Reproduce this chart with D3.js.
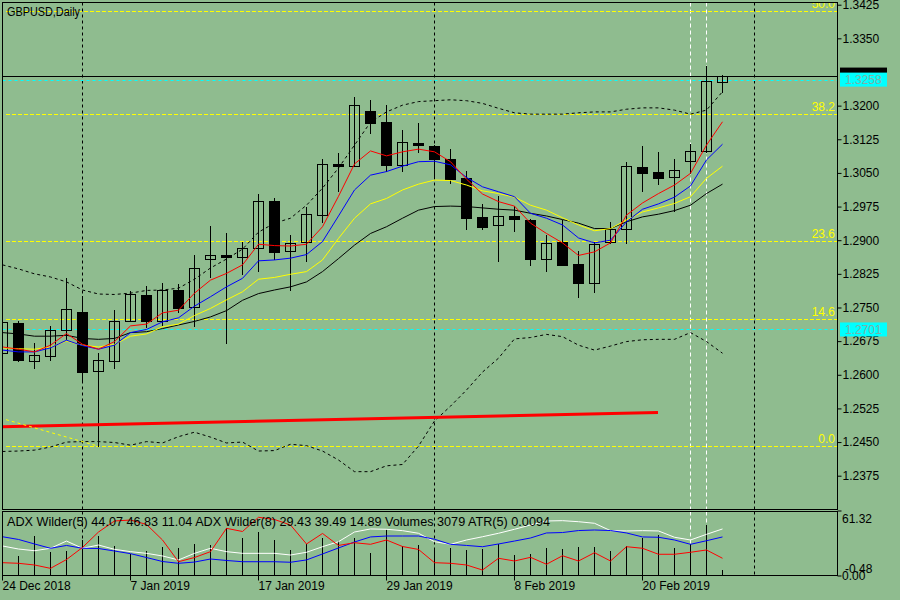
<!DOCTYPE html>
<html>
<head>
<meta charset="utf-8">
<script src="https://cdnjs.cloudflare.com/ajax/libs/d3/7.8.5/d3.min.js"></script>
<style>
  body { margin: 0; background: #8fbc8f; }
  text { font-family: "Liberation Sans", Arial, sans-serif; }
</style>
</head>
<body>
<script>
// bar dates (daily)
var dates = ["24 Dec 2018","26 Dec 2018","27 Dec 2018","28 Dec 2018","31 Dec 2018","2 Jan 2019","3 Jan 2019","4 Jan 2019",
  "7 Jan 2019","8 Jan 2019","9 Jan 2019","10 Jan 2019","11 Jan 2019","14 Jan 2019","15 Jan 2019","16 Jan 2019",
  "17 Jan 2019","18 Jan 2019","21 Jan 2019","22 Jan 2019","23 Jan 2019","24 Jan 2019","25 Jan 2019","28 Jan 2019",
  "29 Jan 2019","30 Jan 2019","31 Jan 2019","1 Feb 2019","4 Feb 2019","5 Feb 2019","6 Feb 2019","7 Feb 2019",
  "8 Feb 2019","11 Feb 2019","12 Feb 2019","13 Feb 2019","14 Feb 2019","15 Feb 2019","18 Feb 2019","19 Feb 2019",
  "20 Feb 2019","21 Feb 2019","22 Feb 2019","25 Feb 2019","26 Feb 2019","27 Feb 2019"];

// OHLC
var open  = [1.2648,1.2716,1.2632,1.2642,1.2699,1.2740,1.2608,1.2630,1.2720,1.2777,1.2720,1.2790,1.2753,1.2857,1.2867,1.2862,
  1.2882,1.2987,1.2876,1.2895,1.2955,1.3070,1.3066,1.3188,1.3163,1.3067,1.3117,1.3110,1.3081,1.3039,1.2952,1.2933,
  1.2954,1.2945,1.2857,1.2896,1.2847,1.2804,1.2895,1.2924,1.3063,1.3052,1.3040,1.3076,1.3098,1.3254];
var high  = [1.2731,1.2720,1.2671,1.2709,1.2815,1.2775,1.2649,1.2744,1.2787,1.2798,1.2804,1.2802,1.2867,1.2932,1.2915,1.2896,
  1.3003,1.2994,1.2911,1.2975,1.3081,1.3095,1.3219,1.3213,1.3201,1.3146,1.3162,1.3112,1.3103,1.3054,1.2980,1.2998,
  1.2976,1.2947,1.2911,1.2945,1.2876,1.2896,1.2940,1.3074,1.3110,1.3097,1.3081,1.3114,1.3288,1.3269];
var low   = [1.2637,1.2630,1.2616,1.2633,1.2680,1.2588,1.2441,1.2616,1.2719,1.2707,1.2711,1.2740,1.2709,1.2818,1.2670,1.2825,
  1.2832,1.2859,1.2789,1.2854,1.2941,1.3010,1.3065,1.3138,1.3055,1.3055,1.3097,1.3043,1.3028,1.2924,1.2924,1.2854,
  1.2921,1.2845,1.2832,1.2844,1.2773,1.2785,1.2894,1.2894,1.3010,1.3025,1.2966,1.3049,1.3097,1.3231];
var close = [1.2718,1.2633,1.2645,1.2700,1.2746,1.2607,1.2632,1.2720,1.2780,1.2718,1.2790,1.2749,1.2839,1.2866,1.2862,1.2882,
  1.2987,1.2874,1.2893,1.2958,1.3069,1.3065,1.3201,1.3161,1.3068,1.3118,1.3112,1.3082,1.3037,1.2950,1.2930,1.2954,
  1.2948,1.2859,1.2893,1.2845,1.2804,1.2891,1.2924,1.3065,1.3050,1.3039,1.3056,1.3099,1.3254,1.3267];

// moving averages
var maRed    = [1.2662,1.2657,1.2651,1.2666,1.2692,1.2668,1.2657,1.2674,1.2709,1.2713,1.2738,1.2744,1.2782,1.2811,1.2826,1.2845,
  1.2891,1.2888,1.2887,1.2891,1.2930,1.2998,1.3070,1.3099,1.3088,1.3097,1.3103,1.3097,1.3075,1.3036,1.3003,1.2986,
  1.2976,1.2938,1.2915,1.2894,1.2866,1.2874,1.2894,1.2956,1.2983,1.3004,1.3023,1.3049,1.3112,1.3164];
var maBlue   = [1.2655,1.2651,1.2651,1.2660,1.2677,1.2665,1.2657,1.2666,1.2694,1.2701,1.2718,1.2727,1.2753,1.2774,1.2796,1.2815,
  1.2854,1.2856,1.2860,1.2868,1.2897,1.2954,1.3012,1.3045,1.3053,1.3065,1.3075,1.3076,1.3068,1.3040,1.3019,1.3008,
  1.2997,1.2960,1.2949,1.2934,1.2905,1.2894,1.2900,1.2941,1.2969,1.2981,1.2996,1.3021,1.3079,1.3114];
var maYellow = [1.2660,1.2658,1.2657,1.2662,1.2675,1.2666,1.2662,1.2668,1.2686,1.2691,1.2707,1.2713,1.2732,1.2748,1.2767,1.2785,
  1.2813,1.2817,1.2824,1.2830,1.2856,1.2904,1.2949,1.2981,1.2993,1.3012,1.3025,1.3034,1.3033,1.3023,1.3010,1.3004,
  1.2996,1.2978,1.2967,1.2950,1.2934,1.2921,1.2926,1.2945,1.2963,1.2972,1.2982,1.2997,1.3038,1.3065];
var maBlack  = [1.2694,1.2691,1.2686,1.2686,1.2688,1.2681,1.2679,1.2681,1.2694,1.2696,1.2703,1.2711,1.2719,1.2729,1.2743,1.2766,
  1.2781,1.2789,1.2796,1.2807,1.2830,1.2859,1.2889,1.2915,1.2930,1.2949,1.2967,1.2975,1.2976,1.2975,1.2972,1.2969,
  1.2967,1.2960,1.2954,1.2946,1.2938,1.2926,1.2926,1.2941,1.2952,1.2958,1.2966,1.2978,1.3004,1.3025];

// bollinger bands
var bbUpper = [1.2845,1.2836,1.2825,1.2818,1.2807,1.2789,1.2780,1.2779,1.2782,1.2788,1.2789,1.2793,1.2813,1.2838,1.2858,1.2880,
  1.2918,1.2938,1.2949,1.2978,1.3016,1.3061,1.3112,1.3163,1.3186,1.3201,1.3209,1.3211,1.3213,1.3211,1.3205,1.3194,
  1.3184,1.3181,1.3181,1.3181,1.3184,1.3186,1.3186,1.3192,1.3195,1.3195,1.3190,1.3181,1.3190,1.3231];
var bbLower = [1.2429,1.2430,1.2432,1.2439,1.2450,1.2451,1.2451,1.2449,1.2443,1.2451,1.2448,1.2462,1.2472,1.2461,1.2448,1.2450,
  1.2430,1.2431,1.2445,1.2442,1.2430,1.2410,1.2384,1.2384,1.2397,1.2400,1.2441,1.2497,1.2530,1.2566,1.2606,1.2637,
  1.2680,1.2683,1.2690,1.2685,1.2666,1.2655,1.2664,1.2674,1.2678,1.2679,1.2679,1.2694,1.2674,1.2648];

// lower window
var volumes = [12000,10260,20520,12470,12830,18470,20670,15390,11130,12830,15030,14520,16260,15900,24780,19340,
  22730,18620,13490,16260,19340,17960,19650,11950,23600,15540,15900,14520,14520,13340,13700,16260,
  10770,11130,14520,13700,14880,15030,12830,15390,19340,21030,14210,16420,26160,3079];
var adxWhite = [28.3,25.4,23.8,26.1,33.0,26.1,29.2,25.1,22.9,21.3,18.8,15.0,21.3,26.1,22.9,21.3,
  21.3,21.3,19.7,22.3,27.6,32.4,41.6,44.5,44.2,42.9,40.4,32.4,29.9,34.0,37.1,40.4,
  44.2,48.3,52.1,52.4,51.4,49.9,42.9,42.6,42.9,42.6,36.6,34.0,39.4,44.5];
var adxBlue  = [37.1,34.5,30.2,26.1,28.8,26.1,25.9,23.5,21.0,17.3,13.5,11.8,13.0,15.9,14.5,13.3,
  13.3,13.3,12.8,15.0,20.7,26.4,32.1,36.9,37.8,37.8,37.8,34.7,29.9,28.8,27.6,30.2,
  33.0,35.9,40.7,41.1,43.0,43.5,43.0,40.7,36.9,36.6,34.0,29.9,33.3,36.9];
var adxRed   = [12.4,11.8,10.2,7.0,15.4,26.9,41.6,52.1,53.0,48.8,34.0,13.3,17.3,22.9,45.1,42.1,
  55.6,53.5,48.3,30.2,40.2,28.8,31.4,29.9,34.0,27.8,25.0,12.4,11.8,10.2,5.4,16.6,
  14.0,17.5,10.9,19.0,14.0,21.9,14.0,27.6,26.1,20.4,20.4,22.3,24.5,16.6];

// objects
var fibLevels = [0.0, 14.6, 23.6, 38.2, 50.0];
var fibLow = 1.2441, fibHigh = 1.4381, fibStartBar = 0.25;
var fibTrend = [[0.25, 1.2500], [6, 1.2441]];
var redTrend = [[0, 1.2484], [41, 1.2516]];
var hLines = [1.3258, 1.2701];
var monthStarts = [5, 27, 47];
var markedBars = [43, 44];
// 1.3275 sits under the price labels and is not shown
var priceTicks = [1.3425,1.3350,1.3200,1.3125,1.3050,1.2975,1.2900,1.2825,1.2750,1.2675,1.2600,1.2525,1.2450,1.2375];
var timeTicks = [0, 8, 16, 24, 32, 40];
var indTicks = [61.32, 0.00];

var bg = "#8fbc8f";
var n = close.length;
var left = 2.5, right = 837.5, mainTop = 2.5, mainBottom = 509.5, indTop = 511.5, indBottom = 575.5;

var svg = d3.select("body").append("svg")
    .attr("width", 900)
    .attr("height", 600)
    .style("background", bg);

var x = d3.scaleLinear().domain([0, 52.1875]).range([2, 837]);
var y = d3.scaleLinear().domain([1.2375, 1.3425]).range([475.7, 4.7]);
var yInd = d3.scaleLinear().domain([0, 61.32]).range([575.7, 511.3]);
var yVol = d3.scaleLinear().domain([0, 33300]).range([576, 511.3]);

function px(v) { return Math.round(v) + 0.5; }

var defs = svg.append("defs");
defs.append("clipPath").attr("id", "clipMain").append("rect")
    .attr("x", left).attr("y", mainTop).attr("width", right - left).attr("height", mainBottom - mainTop);
defs.append("clipPath").attr("id", "clipInd").append("rect")
    .attr("x", left).attr("y", indTop).attr("width", right - left).attr("height", indBottom - indTop);

var gMain = svg.append("g").attr("clip-path", "url(#clipMain)");
var gInd = svg.append("g").attr("clip-path", "url(#clipInd)");

//vertical lines in both windows
[[gMain, mainTop, mainBottom], [gInd, indTop, indBottom]].forEach(function(p) {
    p[0].selectAll(null).data(monthStarts).enter().append("line")
        .attr("x1", function(d) { return px(x(d)); })
        .attr("x2", function(d) { return px(x(d)); })
        .attr("y1", p[1]).attr("y2", p[2])
        .attr("stroke", "#000").attr("stroke-dasharray", "3,3");
    p[0].selectAll(null).data(markedBars).enter().append("line")
        .attr("x1", function(d) { return px(x(d)); })
        .attr("x2", function(d) { return px(x(d)); })
        .attr("y1", p[1]).attr("y2", p[2])
        .attr("stroke", "#fff").attr("stroke-dasharray", "4,3");
});

//fibonacci levels
var fibPrice = function(l) { return fibLow + l / 100 * (fibHigh - fibLow); };
gMain.selectAll(".fib").data(fibLevels).enter().append("line")
    .attr("x1", x(fibStartBar)).attr("x2", right)
    .attr("y1", function(d) { return px(y(fibPrice(d))); })
    .attr("y2", function(d) { return px(y(fibPrice(d))); })
    .attr("stroke", "#ffff00").attr("stroke-dasharray", "4,2");

//horizontal lines
gMain.selectAll(".hl").data(hLines).enter().append("line")
    .attr("x1", left).attr("x2", right)
    .attr("y1", function(d) { return px(y(d)); })
    .attr("y2", function(d) { return px(y(d)); })
    .attr("stroke", "#00ffff").attr("stroke-dasharray", "3,3");

//bid line
gMain.append("line")
    .attr("x1", left).attr("x2", right)
    .attr("y1", px(y(close[n - 1]))).attr("y2", px(y(close[n - 1])))
    .attr("stroke", "#000");

//candles
var bars = gMain.selectAll(".bar").data(d3.range(n)).enter().append("g");
bars.append("line")
    .attr("x1", function(i) { return px(x(i)); })
    .attr("x2", function(i) { return px(x(i)); })
    .attr("y1", function(i) { return Math.round(y(high[i])); })
    .attr("y2", function(i) { return Math.round(y(low[i])) + 1; })
    .attr("stroke", "#000");
bars.append("rect")
    .attr("x", function(i) { return px(x(i)) - 5; })
    .attr("width", 10)
    .attr("y", function(i) { return px(y(Math.max(open[i], close[i]))); })
    .attr("height", function(i) { return Math.max(1, Math.round(Math.abs(y(open[i]) - y(close[i])))); })
    .attr("fill", function(i) { return close[i] >= open[i] ? "none" : "#000"; })
    .attr("stroke", "#000");

//indicator lines
var line = d3.line()
    .x(function(d, i) { return px(x(i)); })
    .y(function(d) { return y(d); });

[[bbUpper, "#000", "3,3"], [bbLower, "#000", "3,3"], [maBlack, "#000", null],
 [maYellow, "#ffff00", null], [maBlue, "#0000ff", null], [maRed, "#ff0000", null]].forEach(function(s) {
    gMain.append("path")
        .attr("d", line(s[0]))
        .attr("fill", "none")
        .attr("stroke", s[1])
        .attr("stroke-dasharray", s[2]);
});

//trend lines
var tline = d3.line().x(function(d) { return x(d[0]); }).y(function(d) { return y(d[1]); });
gMain.append("path").attr("d", tline(redTrend))
    .attr("stroke", "#ff0000").attr("stroke-width", 3).attr("fill", "none");
gMain.append("path").attr("d", tline(fibTrend))
    .attr("stroke", "#ffff00").attr("stroke-dasharray", "3,3").attr("fill", "none");

//fib labels
gMain.selectAll(".fibt").data(fibLevels).enter().append("text")
    .attr("x", 835)
    .attr("y", function(d) { return y(fibPrice(d)) - 3; })
    .attr("text-anchor", "end")
    .attr("font-size", 12)
    .attr("fill", "#ffff00")
    .text(function(d) { return d.toFixed(1); });

gMain.append("text")
    .attr("x", 7).attr("y", 15.5)
    .attr("font-size", 12)
    .attr("textLength", 73).attr("lengthAdjust", "spacingAndGlyphs")
    .text("GBPUSD,Daily");

//lower window
gInd.selectAll(".vol").data(volumes).enter().append("line")
    .attr("x1", function(d, i) { return px(x(i)); })
    .attr("x2", function(d, i) { return px(x(i)); })
    .attr("y1", yVol(0))
    .attr("y2", function(d) { return Math.round(yVol(d)); })
    .attr("stroke", "#000");

var indLine = d3.line()
    .x(function(d, i) { return px(x(i)); })
    .y(function(d) { return yInd(d); });
[[adxWhite, "#fff"], [adxBlue, "#0000ff"], [adxRed, "#ff0000"]].forEach(function(s) {
    gInd.append("path").attr("d", indLine(s[0]))
        .attr("fill", "none").attr("stroke", s[1]);
});

gInd.append("text")
    .attr("x", 7).attr("y", 525.5)
    .attr("font-size", 12)
    .attr("textLength", 543).attr("lengthAdjust", "spacingAndGlyphs")
    .text("ADX Wilder(5) 44.07 46.83 11.04 ADX Wilder(8) 29.43 39.49 14.89 Volumes 3079 ATR(5) 0.0094");

//frames
svg.append("rect").attr("x", left).attr("y", mainTop)
    .attr("width", right - left).attr("height", mainBottom - mainTop)
    .attr("fill", "none").attr("stroke", "#000");
svg.append("rect").attr("x", left).attr("y", indTop)
    .attr("width", right - left).attr("height", indBottom - indTop)
    .attr("fill", "none").attr("stroke", "#000");

//price axis
var yAxis = svg.append("g")
    .attr("transform", "translate(" + right + ",0)")
    .call(d3.axisRight(y).tickValues(priceTicks).tickSize(4).tickPadding(1)
        .tickFormat(d3.format(".4f")));
yAxis.select(".domain").remove();
yAxis.selectAll("line").attr("stroke", "#000");
yAxis.selectAll("text").attr("font-size", 12).attr("font-family", "Liberation Sans, Arial, sans-serif").attr("fill", "#000");

//price labels: black bid box mostly hidden under the cyan one
var bidY = y(close[n - 1]);
svg.append("rect").attr("x", 840).attr("y", bidY - 8).attr("width", 47).attr("height", 14).attr("fill", "#000");
svg.selectAll(".hlbox").data(hLines).enter().append("rect")
    .attr("x", 840).attr("y", function(d) { return y(d) - 7; })
    .attr("width", 47).attr("height", 14)
    .attr("fill", "#00ffff");
svg.selectAll(".hltxt").data(hLines).enter().append("text")
    .attr("x", 845).attr("y", function(d) { return y(d) + 4.5; })
    .attr("font-size", 12).attr("fill", "#7fb0a8")
    .text(function(d) { return d.toFixed(4); });

//indicator scale
svg.selectAll(".itk").data(indTicks).enter().append("line")
    .attr("x1", right).attr("x2", right + 4)
    .attr("y1", function(d) { return px(yInd(d)) - 0.5; })
    .attr("y2", function(d) { return px(yInd(d)) - 0.5; })
    .attr("stroke", "#000");
svg.append("text").attr("x", 842).attr("y", 523).attr("font-size", 12).text(indTicks[0].toFixed(2));
svg.append("text").attr("x", 845).attr("y", 573).attr("font-size", 12).text("-0.48");
svg.append("text").attr("x", 842).attr("y", 580).attr("font-size", 12).text(indTicks[1].toFixed(2));

//time axis
var xAxis = svg.append("g")
    .attr("transform", "translate(0," + indBottom + ")")
    .call(d3.axisBottom(x).tickValues(timeTicks).tickSize(5).tickPadding(1)
        .tickFormat(function(i) { return dates[i]; }));
xAxis.select(".domain").remove();
xAxis.selectAll(".tick").attr("transform", function(i) { return "translate(" + px(x(i)) + ",0)"; });
xAxis.selectAll("line").attr("stroke", "#000");
xAxis.selectAll("text").attr("font-size", 12).attr("font-family", "Liberation Sans, Arial, sans-serif")
    .attr("fill", "#000").attr("text-anchor", "start");
</script>
</body>
</html>
